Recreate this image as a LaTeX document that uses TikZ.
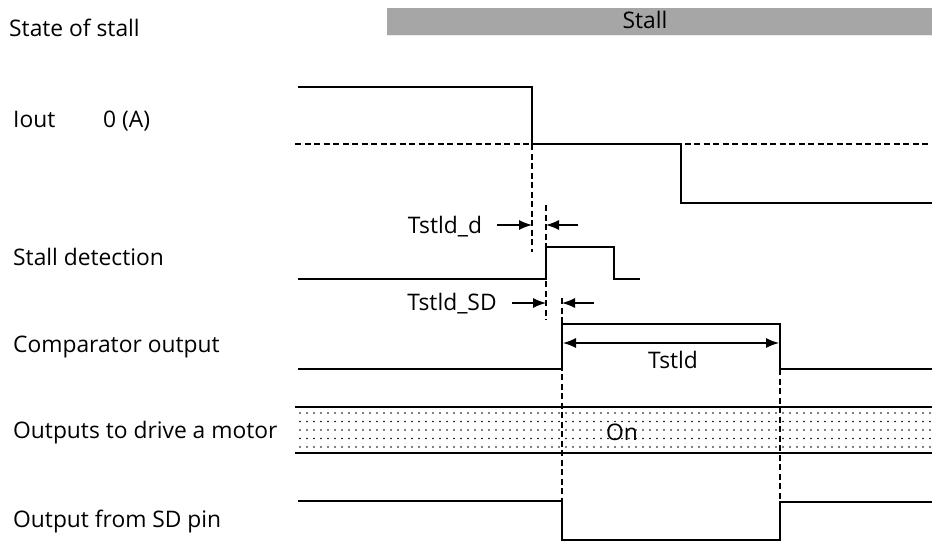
\documentclass[tikz,border=0pt]{standalone}
\usepackage{fontspec}
\setmainfont{Open Sans}
\usetikzlibrary{arrows.meta}
\definecolor{stallgray}{HTML}{A6A6A6}
\begin{document}
\begin{tikzpicture}[x=1pt,y=-1pt,
 lbl/.style={font=\fontsize{22.8}{26}\selectfont, inner sep=0pt, anchor=base west},
 ctr/.style={font=\fontsize{22.8}{26}\selectfont, inner sep=0pt, anchor=base},
 wave/.style={line width=2.5pt, line join=miter},
 guide/.style={line width=1.3pt, dash pattern=on 6pt off 3.5pt},
 meas/.style={line width=1.2pt, -{Latex[length=13pt,width=10pt]}},
 dmeas/.style={line width=1.2pt, {Latex[length=13pt,width=10pt]}-{Latex[length=13pt,width=10pt]}},
]
\useasboundingbox (0,0) rectangle (932,543);

% left labels
\node[lbl] (lstate) at (9,37) {State of stall};
\node[lbl] (liout) at (13,128) {Iout};
\node[lbl] (lzero) at (103,128) {0 (A)};
\node[lbl] (ldet) at (13,265) {Stall detection};
\node[lbl] (lcomp) at (13,352) {Comparator output};
\node[lbl] (lmot) at (13,438) {Outputs to drive a motor};
\node[lbl] (lsd) at (13,527) {Output from SD pin};

% stall bar
\fill[stallgray] (387,8) rectangle (932,35);
\draw[white!85!gray, line width=0.8pt] (387,35) -- (932,35);
\node[ctr] (tstall) at (645,29) {Stall};

% Iout
\draw[guide] (295,144) -- (932,144);
\draw[wave] (298,87) -- (532,87) -- (532,144) -- (681,144) -- (681,203) -- (932,203);

% guides
\draw[guide] (532,144) -- (532,252);
\draw[guide] (546,205) -- (546,320);
\draw[guide] (562,298) -- (562,540);
\draw[guide] (780,369) -- (780,502);

% stall detection
\draw[wave] (298,279) -- (546,279) -- (546,247) -- (614,247) -- (614,279) -- (640,279);
\node[ctr] (ttd) at (445,233) {Tstld\_d};
\coordinate (a1s) at (497,225); \coordinate (a1e) at (532,225);
\coordinate (a2s) at (578,225); \coordinate (a2e) at (546,225);
\draw[meas] (a1s) -- (a1e);
\draw[meas] (a2s) -- (a2e);

\node[ctr] (ttsd) at (452,310) {Tstld\_SD};
\coordinate (b1s) at (512,303); \coordinate (b1e) at (546,303);
\coordinate (b2s) at (594,303); \coordinate (b2e) at (562,303);
\draw[meas] (b1s) -- (b1e);
\draw[meas] (b2s) -- (b2e);

% comparator
\draw[wave] (298,369) -- (562,369) -- (562,324) -- (780,324) -- (780,369) -- (932,369);
\coordinate (c1) at (563,343); \coordinate (c2) at (779,343);
\draw[dmeas] (c1) -- (c2);
\node[ctr] (tt) at (673,368) {Tstld};

% motor outputs band
\foreach \y in {413,421.5,...,449}
  \foreach \x in {300,307,...,930}
    \fill (\x,\y) circle (0.85);
\draw[wave] (295,407) -- (932,407);
\draw[wave] (295,453) -- (932,453);
\node[ctr] (ton) at (622,440) {On};

% SD pin
\draw[wave] (298,501) -- (562,501) -- (562,540) -- (780,540) -- (780,502) -- (932,502);
\end{tikzpicture}
\end{document}
